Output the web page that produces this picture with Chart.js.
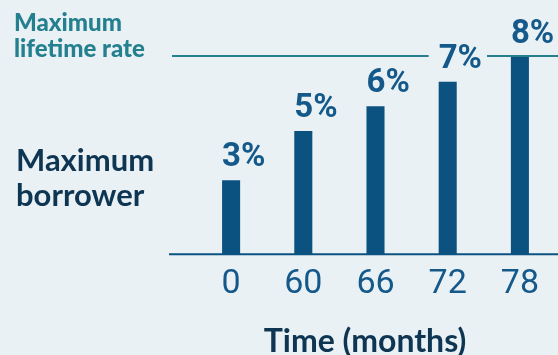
<!DOCTYPE html>
<html>
<head>
<meta charset="utf-8">
<script src="https://cdn.jsdelivr.net/npm/chart.js@4"></script>
<style>
  html, body { margin: 0; padding: 0; background: #E9F1F5; }
  #wrap { width: 558px; height: 355px; }
</style>
</head>
<body>
<div id="wrap"><canvas id="rateChart" width="558" height="355"></canvas></div>
<script>
// Rate caps by month
const months = ['0', '60', '66', '72', '78'];
const maxRates = [3, 5, 6, 7, 8];
const lifetimeCap = 8;
const lifetimeLabel = ['Maximum', 'lifetime rate'];
const borrowerLabel = ['Maximum', 'borrower'];
const xTitle = 'Time (months)';

const NAVY = '#0B5280';
const TEXT = '#14598A';
const TEAL = '#24808F';
const DARK = '#0E3552';
const VALUE_FONT = 'bold 33px Roboto';

// reference lines behind the bars, text on top
const overlay = {
    id: 'overlay',
    beforeDatasetsDraw(chart) {
        const { ctx, chartArea, scales: { y } } = chart;
        const meta = chart.getDatasetMeta(0);
        ctx.save();

        // label boxes so the cap line can break around them
        ctx.font = VALUE_FONT;
        const boxes = meta.data.map((bar, i) => {
            const text = maxRates[i] + '%';
            const l = bar.x - bar.width / 2;
            const base = bar.y - 14;
            return { l, r: l + ctx.measureText(text).width, top: base - 23, bottom: base };
        });

        const ly = Math.round(y.getPixelForValue(lifetimeCap)) - 1;
        let from = chartArea.left - 23;
        const cuts = boxes.filter(b => b.top <= ly && b.bottom >= ly)
            .map(b => [b.l - 10, b.r + 5]);
        ctx.strokeStyle = TEAL;
        ctx.lineWidth = 2;
        ctx.beginPath();
        cuts.forEach(([a, b]) => { ctx.moveTo(from, ly); ctx.lineTo(a, ly); from = b; });
        ctx.moveTo(from, ly);
        ctx.lineTo(chart.width, ly);
        ctx.stroke();

        // baseline
        const by = y.getPixelForValue(0);
        ctx.strokeStyle = NAVY;
        ctx.beginPath();
        ctx.moveTo(chartArea.left - 26, by);
        ctx.lineTo(chart.width, by);
        ctx.stroke();
        ctx.restore();
    },
    afterDatasetsDraw(chart) {
        const { ctx, chartArea } = chart;
        const meta = chart.getDatasetMeta(0);
        ctx.save();
        ctx.textAlign = 'left';
        ctx.textBaseline = 'alphabetic';

        ctx.font = VALUE_FONT;
        ctx.fillStyle = TEXT;
        meta.data.forEach((bar, i) => {
            ctx.fillText(maxRates[i] + '%', bar.x - bar.width / 2, bar.y - 14);
        });

        ctx.font = '900 24px Lato';
        ctx.fillStyle = TEAL;
        ctx.fillText(lifetimeLabel[0], 14, 31);
        ctx.fillText(lifetimeLabel[1], 14, 57);

        ctx.font = 'bold 31px Lato';
        ctx.fillStyle = DARK;
        ctx.fillText(borrowerLabel[0], 16, 171);
        ctx.fillText(borrowerLabel[1], 16, 206);

        // axis title, sits a little left of the plot centre
        ctx.font = 'bold 32px Lato';
        ctx.textAlign = 'center';
        ctx.fillText(xTitle, chartArea.left + 170, 352);
        ctx.restore();
    }
};

new Chart(document.getElementById('rateChart'), {
    type: 'bar',
    data: {
        labels: months,
        datasets: [{
            data: maxRates,
            backgroundColor: NAVY,
            borderWidth: 0,
            barPercentage: 0.25,
            categoryPercentage: 1
        }]
    },
    options: {
        responsive: false,
        animation: false,
        layout: { padding: { left: 195, right: 2, top: 57, bottom: 40 } },
        plugins: { legend: { display: false }, tooltip: { enabled: false } },
        scales: {
            x: {
                grid: { display: false, drawTicks: false },
                border: { display: false },
                ticks: { color: TEXT, font: { family: 'Roboto', size: 34 }, padding: 10 }
            },
            y: { display: false, min: 0, max: lifetimeCap }
        }
    },
    plugins: [overlay]
});
</script>
</body>
</html>
